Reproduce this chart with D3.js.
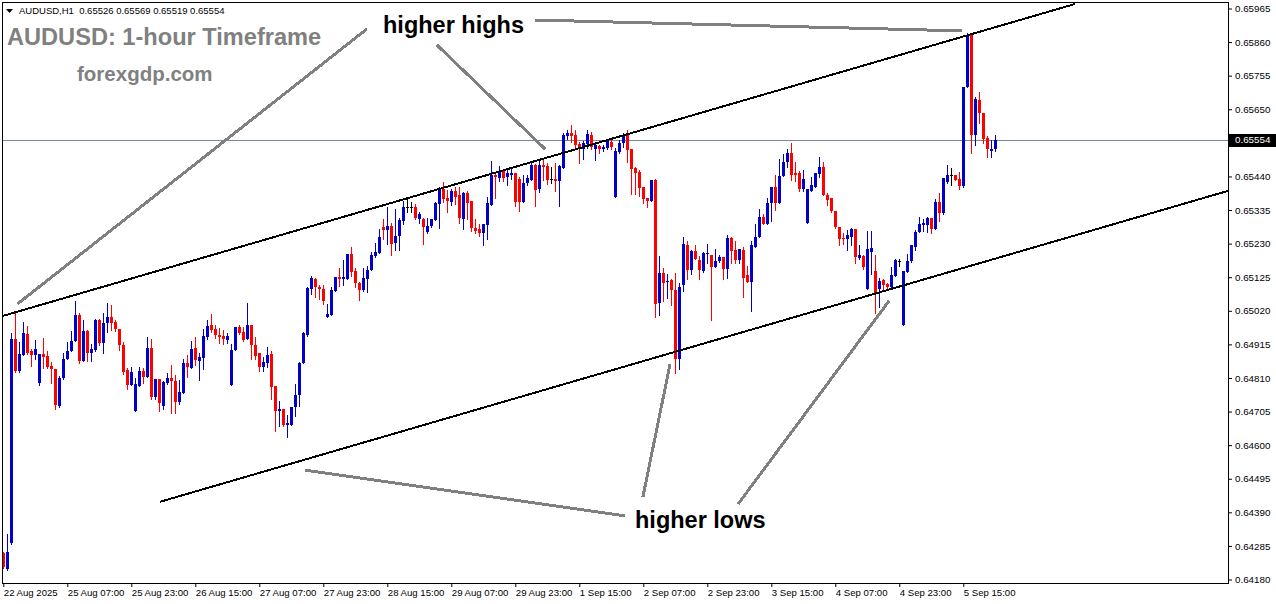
<!DOCTYPE html>
<html><head><meta charset="utf-8">
<script src="https://cdn.jsdelivr.net/npm/d3@7"></script>
<style>html,body{margin:0;padding:0;background:#fff;overflow:hidden}</style>
</head><body><svg id="chart" width="1276" height="604"></svg>
<script>
// ---------- DATA ----------
const symbolInfo = "AUDUSD,H1  0.65526 0.65569 0.65519 0.65554";
const titleText = "AUDUSD: 1-hour Timeframe";
const siteText = "forexgdp.com";
const timeLabels = ["22 Aug 2025","25 Aug 07:00","25 Aug 23:00","26 Aug 15:00","27 Aug 07:00","27 Aug 23:00","28 Aug 15:00","29 Aug 07:00","29 Aug 23:00","1 Sep 15:00","2 Sep 07:00","2 Sep 23:00","3 Sep 15:00","4 Sep 07:00","4 Sep 23:00","5 Sep 15:00"];
const barsPerLabel = 16;
const priceTicks = [0.65965,0.65860,0.65755,0.65650,0.65545,0.65440,0.65335,0.65230,0.65125,0.65020,0.64915,0.64810,0.64705,0.64600,0.64495,0.64390,0.64285,0.64180];
const lastPrice = 0.65554;

const openP = [0.64263,0.64213,0.64294,0.64931,0.64833,0.64883,0.64947,0.64893,0.64881,0.64795,
0.64885,0.64879,0.64847,0.64838,0.64722,0.64810,0.64868,0.64895,0.64927,0.65008,
0.64864,0.64958,0.64889,0.64897,0.64991,0.64920,0.64981,0.65000,0.64985,0.64962,
0.64914,0.64835,0.64789,0.64708,0.64785,0.64833,0.64814,0.64904,0.64751,0.64806,
0.64722,0.64793,0.64810,0.64800,0.64735,0.64764,0.64856,0.64841,0.64904,0.64864,
0.64872,0.64939,0.64975,0.64964,0.64945,0.64941,0.64929,0.64787,0.64897,0.64968,
0.64954,0.64933,0.64975,0.64912,0.64887,0.64845,0.64858,0.64885,0.64785,0.64708,
0.64712,0.64662,0.64664,0.64718,0.64756,0.64856,0.64943,0.65087,0.65118,0.65093,
0.65089,0.65002,0.65006,0.65081,0.65125,0.65118,0.65118,0.65198,0.65145,0.65108,
0.65085,0.65118,0.65148,0.65191,0.65202,0.65281,0.65273,0.65285,0.65233,0.65254,
0.65302,0.65344,0.65345,0.65344,0.65306,0.65308,0.65266,0.65285,0.65304,0.65354,
0.65402,0.65373,0.65360,0.65395,0.65383,0.65308,0.65389,0.65362,0.65279,0.65277,
0.65264,0.65289,0.65352,0.65445,0.65435,0.65458,0.65439,0.65445,0.65450,0.65433,
0.65360,0.65419,0.65429,0.65475,0.65400,0.65477,0.65473,0.65431,0.65433,0.65427,
0.65466,0.65566,0.65575,0.65570,0.65541,0.65525,0.65541,0.65570,0.65527,0.65535,
0.65525,0.65529,0.65548,0.65377,0.65516,0.65544,0.65570,0.65525,0.65466,0.65454,
0.65408,0.65373,0.65362,0.65429,0.65043,0.65139,0.65110,0.65116,0.65085,0.64870,
0.65102,0.65225,0.65148,0.65206,0.65179,0.65145,0.65198,0.65195,0.65158,0.65177,
0.65189,0.65150,0.65248,0.65210,0.65179,0.65210,0.65131,0.65110,0.65220,0.65250,
0.65312,0.65291,0.65356,0.65408,0.65358,0.65441,0.65485,0.65512,0.65452,0.65452,
0.65400,0.65295,0.65395,0.65408,0.65448,0.65470,0.65383,0.65373,0.65331,0.65281,
0.65248,0.65245,0.65252,0.65275,0.65185,0.65191,0.65089,0.65204,0.65145,0.65087,
0.65116,0.65104,0.65093,0.65129,0.65177,0.64975,0.65141,0.65175,0.65220,0.65266,
0.65287,0.65289,0.65310,0.65275,0.65360,0.65325,0.65423,0.65444,0.65444,0.65431,
0.65410,0.65721,0.65883,0.65569,0.65679,0.65639,0.65560,0.65521,0.65526];

const highP = [0.64266,0.64322,0.64951,0.65012,0.64922,0.64985,0.64972,0.64900,0.64929,0.64885,
0.64935,0.64895,0.64860,0.64838,0.64816,0.64889,0.64922,0.64956,0.65050,0.65012,
0.64991,0.64960,0.64916,0.64995,0.64995,0.65012,0.65043,0.65039,0.64991,0.64962,
0.64922,0.64841,0.64843,0.64810,0.64843,0.64841,0.64939,0.64931,0.64808,0.64806,
0.64800,0.64825,0.64852,0.64820,0.64804,0.64868,0.64881,0.64925,0.64939,0.64889,
0.64962,0.64991,0.65010,0.64977,0.64966,0.64960,0.64950,0.64916,0.64970,0.64977,
0.64968,0.65045,0.64977,0.64937,0.64887,0.64877,0.64906,0.64895,0.64785,0.64737,
0.64713,0.64693,0.64718,0.64791,0.64860,0.64954,0.65095,0.65129,0.65123,0.65100,
0.65102,0.65041,0.65095,0.65125,0.65154,0.65179,0.65198,0.65220,0.65154,0.65110,
0.65154,0.65160,0.65204,0.65233,0.65277,0.65306,0.65344,0.65294,0.65337,0.65310,
0.65364,0.65377,0.65360,0.65354,0.65329,0.65310,0.65310,0.65308,0.65360,0.65408,
0.65423,0.65398,0.65400,0.65408,0.65406,0.65391,0.65394,0.65362,0.65308,0.65291,
0.65291,0.65377,0.65487,0.65450,0.65473,0.65464,0.65460,0.65464,0.65450,0.65437,
0.65444,0.65445,0.65481,0.65479,0.65491,0.65491,0.65483,0.65470,0.65481,0.65475,
0.65575,0.65585,0.65600,0.65585,0.65548,0.65550,0.65585,0.65579,0.65546,0.65539,
0.65537,0.65558,0.65554,0.65529,0.65554,0.65575,0.65585,0.65525,0.65470,0.65460,
0.65408,0.65373,0.65429,0.65431,0.65191,0.65154,0.65135,0.65118,0.65139,0.65108,
0.65252,0.65239,0.65210,0.65225,0.65191,0.65204,0.65229,0.65195,0.65214,0.65194,
0.65189,0.65256,0.65252,0.65237,0.65214,0.65219,0.65160,0.65239,0.65291,0.65339,
0.65323,0.65373,0.65408,0.65444,0.65494,0.65510,0.65527,0.65544,0.65485,0.65456,
0.65460,0.65401,0.65439,0.65452,0.65500,0.65485,0.65387,0.65373,0.65331,0.65281,
0.65262,0.65273,0.65279,0.65275,0.65225,0.65195,0.65270,0.65269,0.65194,0.65123,
0.65120,0.65108,0.65156,0.65183,0.65181,0.65145,0.65198,0.65225,0.65273,0.65312,
0.65308,0.65312,0.65310,0.65369,0.65389,0.65435,0.65475,0.65466,0.65444,0.65454,
0.65721,0.65888,0.65888,0.65689,0.65704,0.65639,0.65566,0.65554,0.65569];

const lowP = [0.64216,0.64210,0.64291,0.64830,0.64829,0.64882,0.64885,0.64847,0.64870,0.64789,
0.64841,0.64841,0.64795,0.64714,0.64718,0.64808,0.64868,0.64893,0.64925,0.64858,
0.64864,0.64862,0.64862,0.64895,0.64912,0.64889,0.64954,0.64960,0.64958,0.64897,
0.64822,0.64777,0.64789,0.64708,0.64785,0.64795,0.64814,0.64743,0.64745,0.64708,
0.64714,0.64791,0.64700,0.64701,0.64729,0.64764,0.64814,0.64841,0.64850,0.64804,
0.64839,0.64931,0.64954,0.64935,0.64918,0.64916,0.64918,0.64787,0.64897,0.64947,
0.64927,0.64933,0.64870,0.64870,0.64831,0.64831,0.64845,0.64745,0.64643,0.64660,
0.64660,0.64625,0.64664,0.64691,0.64722,0.64856,0.64941,0.65073,0.65062,0.65058,
0.65041,0.65000,0.65006,0.65081,0.65098,0.65100,0.65118,0.65129,0.65095,0.65054,
0.65083,0.65079,0.65148,0.65188,0.65201,0.65245,0.65229,0.65194,0.65210,0.65210,
0.65291,0.65329,0.65329,0.65306,0.65295,0.65229,0.65264,0.65283,0.65304,0.65279,
0.65360,0.65329,0.65350,0.65354,0.65295,0.65277,0.65308,0.65269,0.65262,0.65254,
0.65227,0.65245,0.65351,0.65373,0.65425,0.65425,0.65412,0.65433,0.65348,0.65333,
0.65360,0.65412,0.65429,0.65348,0.65391,0.65429,0.65416,0.65419,0.65394,0.65348,
0.65466,0.65558,0.65548,0.65525,0.65483,0.65494,0.65529,0.65527,0.65491,0.65514,
0.65519,0.65527,0.65527,0.65377,0.65514,0.65531,0.65485,0.65385,0.65385,0.65379,
0.65358,0.65344,0.65362,0.65002,0.65008,0.65052,0.65060,0.65037,0.64827,0.64839,
0.65083,0.65120,0.65135,0.65183,0.65120,0.65141,0.65168,0.64991,0.65156,0.65173,
0.65120,0.65123,0.65168,0.65168,0.65168,0.65064,0.65110,0.65020,0.65220,0.65250,
0.65291,0.65291,0.65302,0.65335,0.65358,0.65441,0.65470,0.65429,0.65427,0.65395,
0.65395,0.65295,0.65395,0.65408,0.65439,0.65381,0.65350,0.65329,0.65279,0.65225,
0.65229,0.65210,0.65225,0.65170,0.65183,0.65150,0.65089,0.65135,0.65012,0.65033,
0.65089,0.65089,0.65091,0.65129,0.65160,0.64975,0.65141,0.65173,0.65210,0.65266,
0.65268,0.65266,0.65262,0.65275,0.65300,0.65323,0.65419,0.65414,0.65429,0.65402,
0.65408,0.65721,0.65514,0.65539,0.65608,0.65544,0.65500,0.65500,0.65519];

const closeP = [0.64219,0.64266,0.64932,0.64833,0.64885,0.64952,0.64889,0.64881,0.64900,0.64885,
0.64877,0.64845,0.64837,0.64726,0.64810,0.64868,0.64895,0.64925,0.65008,0.64864,
0.64956,0.64889,0.64902,0.64991,0.64920,0.64981,0.65000,0.64983,0.64962,0.64912,
0.64829,0.64789,0.64829,0.64791,0.64833,0.64814,0.64904,0.64751,0.64806,0.64731,
0.64797,0.64810,0.64800,0.64735,0.64766,0.64856,0.64843,0.64900,0.64866,0.64875,
0.64941,0.64972,0.64960,0.64945,0.64937,0.64931,0.64941,0.64897,0.64968,0.64952,
0.64929,0.64975,0.64912,0.64879,0.64845,0.64860,0.64883,0.64783,0.64708,0.64712,
0.64662,0.64668,0.64718,0.64758,0.64858,0.64950,0.65091,0.65123,0.65095,0.65087,
0.65052,0.65010,0.65085,0.65125,0.65118,0.65125,0.65198,0.65141,0.65108,0.65085,
0.65123,0.65148,0.65194,0.65204,0.65250,0.65273,0.65285,0.65229,0.65254,0.65304,
0.65344,0.65344,0.65345,0.65310,0.65323,0.65283,0.65285,0.65306,0.65356,0.65400,
0.65370,0.65362,0.65395,0.65375,0.65310,0.65389,0.65358,0.65279,0.65269,0.65264,
0.65291,0.65356,0.65444,0.65437,0.65458,0.65435,0.65450,0.65450,0.65360,0.65360,
0.65420,0.65435,0.65477,0.65398,0.65477,0.65470,0.65429,0.65431,0.65427,0.65473,
0.65570,0.65575,0.65566,0.65537,0.65525,0.65544,0.65573,0.65533,0.65537,0.65525,
0.65533,0.65552,0.65533,0.65519,0.65546,0.65570,0.65523,0.65464,0.65452,0.65404,
0.65369,0.65362,0.65429,0.65041,0.65139,0.65108,0.65114,0.65085,0.64870,0.65095,
0.65229,0.65148,0.65206,0.65183,0.65148,0.65202,0.65202,0.65158,0.65175,0.65189,
0.65150,0.65248,0.65208,0.65179,0.65212,0.65123,0.65110,0.65225,0.65250,0.65312,
0.65291,0.65358,0.65408,0.65356,0.65441,0.65485,0.65512,0.65444,0.65445,0.65400,
0.65432,0.65401,0.65412,0.65450,0.65470,0.65383,0.65366,0.65331,0.65283,0.65245,
0.65245,0.65256,0.65275,0.65187,0.65194,0.65158,0.65212,0.65216,0.65077,0.65114,
0.65102,0.65093,0.65131,0.65179,0.65177,0.65145,0.65175,0.65225,0.65266,0.65291,
0.65294,0.65310,0.65275,0.65360,0.65327,0.65435,0.65445,0.65444,0.65429,0.65410,
0.65721,0.65883,0.65570,0.65681,0.65637,0.65556,0.65525,0.65527,0.65554];

// trend-channel lines, [bar index, price]
const channelUpper = [[-0.1, 0.65004], [267.9, 0.65979]];
const channelLower = [[39.2, 0.64423], [306.2, 0.65395]];
// annotation pointer lines, [bar index, price]
const highsPointers = [
  [[3.5, 0.65041], [90.9, 0.65901]],
  [[108.4, 0.65851], [135.5, 0.65525]],
  [[132.9, 0.65929], [239.7, 0.65895]]
];
const lowsPointers = [
  [[75.4, 0.64522], [155.4, 0.64379]],
  [[159.9, 0.64438], [166.7, 0.64854]],
  [[183.7, 0.64416], [221.5, 0.65052]]
];

// ---------- LAYOUT ----------
const svg = d3.select("#chart");
const frame = {left: 2, top: 2, right: 1228, bottom: 583};
const x = d3.scaleLinear().domain([0, 248]).range([3.3, 995.3]);
const y = d3.scaleLinear().domain([0.64180, 0.65965]).range([579.5, 8.5]);
const BLUE = "#0000cd", RED = "#ff0000";
const FONT = "'Liberation Sans', Arial, sans-serif";
const fmt = d3.format(".5f");

svg.append("rect").attr("width", 1276).attr("height", 604).attr("fill", "#fff");

svg.append("defs").append("clipPath").attr("id", "plotclip")
  .append("rect").attr("x", frame.left).attr("y", frame.top)
  .attr("width", frame.right - frame.left).attr("height", frame.bottom - frame.top);

const plot = svg.append("g").attr("clip-path", "url(#plotclip)");

// current price line
plot.append("line")
  .attr("x1", frame.left).attr("x2", frame.right)
  .attr("y1", Math.round(y(lastPrice)) + 0.5).attr("y2", Math.round(y(lastPrice)) + 0.5)
  .attr("stroke", "#778899").attr("stroke-width", 1);

// candles
const candles = d3.range(openP.length).map(i => ({i, o: openP[i], h: highP[i], l: lowP[i], c: closeP[i]}));
const colorOf = d => d.c > d.o ? BLUE : (d.c < d.o ? RED : "#000");
const cg = plot.append("g").attr("shape-rendering", "crispEdges");
cg.selectAll("rect.wick").data(candles).join("rect").attr("class", "wick")
  .attr("x", d => Math.round(x(d.i)))
  .attr("width", 1)
  .attr("y", d => Math.round(y(d.h)))
  .attr("height", d => Math.max(1, Math.round(y(d.l)) - Math.round(y(d.h)) + 1))
  .attr("fill", colorOf);
cg.selectAll("rect.body").data(candles).join("rect").attr("class", "body")
  .attr("x", d => Math.round(x(d.i)) - 1)
  .attr("width", 3)
  .attr("y", d => Math.round(y(Math.max(d.o, d.c))))
  .attr("height", d => Math.max(1, Math.round(y(Math.min(d.o, d.c))) - Math.round(y(Math.max(d.o, d.c)))))
  .attr("fill", colorOf);

// channel lines
const line = d3.line().x(d => x(d[0])).y(d => y(d[1]));
plot.selectAll("path.channel").data([channelUpper, channelLower]).join("path")
  .attr("class", "channel").attr("d", line)
  .attr("fill", "none").attr("stroke", "#000").attr("stroke-width", 2)
  .attr("shape-rendering", "crispEdges");

// pointer lines
plot.selectAll("path.pointer").data(highsPointers.concat(lowsPointers)).join("path")
  .attr("class", "pointer").attr("d", line)
  .attr("fill", "none").attr("stroke", "#808080").attr("stroke-width", 3)
  .attr("shape-rendering", "crispEdges");

// texts
svg.append("path").attr("d", "M6,9 L13,9 L9.5,13 Z").attr("fill", "#000");
svg.append("text").attr("x", 19).attr("y", 14).attr("font-family", FONT).attr("font-size", 9.5)
  .style("white-space", "pre").attr("fill", "#000").text(symbolInfo);
svg.append("text").attr("x", 7).attr("y", 45).attr("font-family", FONT).attr("font-weight", "bold")
  .attr("font-size", 23.6).attr("fill", "#808080").text(titleText);
svg.append("text").attr("x", 77).attr("y", 81).attr("font-family", FONT).attr("font-weight", "bold")
  .attr("font-size", 20.5).attr("fill", "#808080").text(siteText);
svg.append("text").attr("x", 383).attr("y", 33).attr("font-family", FONT).attr("font-weight", "bold")
  .attr("font-size", 23.5).attr("fill", "#000").text("higher highs");
svg.append("text").attr("x", 635).attr("y", 528).attr("font-family", FONT).attr("font-weight", "bold")
  .attr("font-size", 23.5).attr("fill", "#000").text("higher lows");

// frame
svg.append("rect").attr("x", frame.left + 0.5).attr("y", frame.top + 0.5)
  .attr("width", frame.right - frame.left).attr("height", frame.bottom - frame.top)
  .attr("fill", "none").attr("stroke", "#000").attr("stroke-width", 1);

// y axis (right); the tick hidden by the current-price box gets no label
const yAxis = d3.axisRight(y).tickValues(priceTicks)
  .tickFormat(d => Math.abs(y(d) - y(lastPrice)) < 12 ? "" : fmt(d))
  .tickSize(4).tickSizeOuter(0).tickPadding(3);
const ya = svg.append("g").attr("transform", `translate(${frame.right},0)`).call(yAxis);
ya.select(".domain").remove();
ya.selectAll("text").attr("font-family", FONT).attr("font-size", 9.8).attr("fill", "#000");
ya.selectAll("line").attr("stroke", "#000");

// x axis (bottom)
const tickIdx = timeLabels.map((_, k) => k * barsPerLabel);
const xAxis = d3.axisBottom(x).tickValues(tickIdx).tickFormat((d, k) => timeLabels[k]).tickSize(4).tickSizeOuter(0).tickPadding(2);
const xa = svg.append("g").attr("transform", `translate(0,${frame.bottom})`).call(xAxis);
xa.select(".domain").remove();
xa.selectAll("text").attr("font-family", FONT).attr("font-size", 9.6).attr("fill", "#000")
  .attr("text-anchor", "start").attr("dx", 0);
xa.selectAll("line").attr("stroke", "#000");

// current price box
const py = y(lastPrice);
svg.append("rect").attr("x", frame.right + 1).attr("y", Math.round(py) - 6).attr("width", 47).attr("height", 13).attr("fill", "#000");
svg.append("text").attr("x", frame.right + 7).attr("y", py).attr("dy", "0.35em")
  .attr("font-family", FONT).attr("font-size", 9.8).attr("fill", "#fff").text(fmt(lastPrice));
</script></body></html>
